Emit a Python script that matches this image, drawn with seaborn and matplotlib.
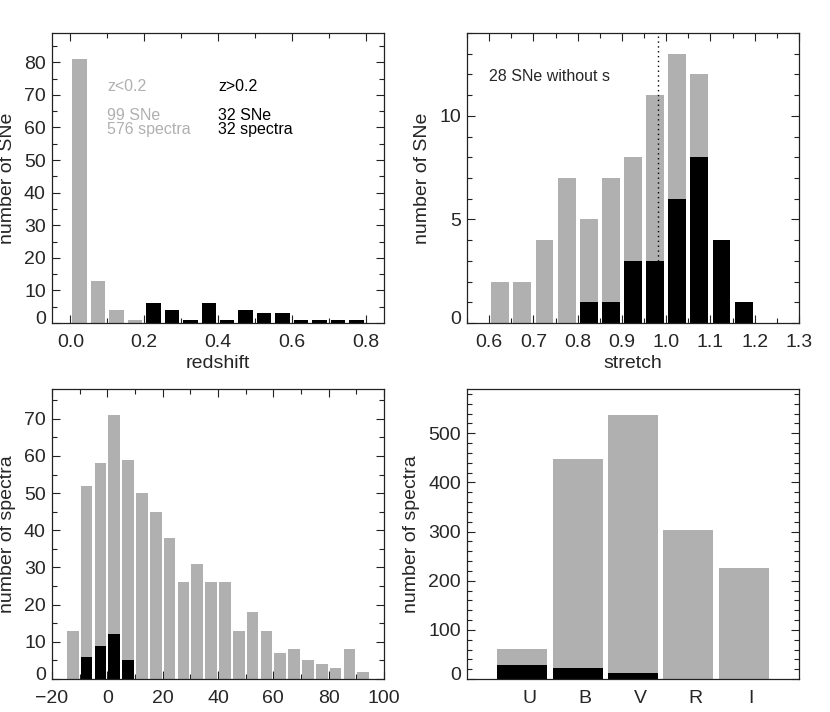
import numpy as np
import pandas as pd
import matplotlib
matplotlib.use("Agg")
import matplotlib.pyplot as plt
from matplotlib.ticker import MultipleLocator, FuncFormatter
from matplotlib.transforms import ScaledTranslation
import seaborn as sns

# redshift histogram (bin starts, width 0.05)
z_lo_bins = [0.0, 0.05, 0.10, 0.15]
z_lo_counts = [81, 13, 4, 1]
z_hi_bins = [0.20, 0.25, 0.30, 0.35, 0.40, 0.45, 0.50, 0.55, 0.60, 0.65, 0.70, 0.75]
z_hi_counts = [6, 4, 1, 6, 1, 4, 3, 3, 1, 1, 1, 1]

# stretch histogram (bin starts, width 0.05)
s_bins = [0.60, 0.65, 0.70, 0.75, 0.80, 0.85, 0.90, 0.95, 1.00, 1.05, 1.10, 1.15]
s_all_counts = [2, 2, 4, 7, 5, 7, 8, 11, 13, 12, 4, 1]
s_hi_counts = [0, 0, 0, 0, 1, 1, 3, 3, 6, 8, 4, 1]
s_mean = 0.982

# phase histogram (bin starts, width 5 days)
ph_bins = [-15, -10, -5, 0, 5, 10, 15, 20, 25, 30, 35, 40, 45, 50, 55, 60, 65, 70, 75, 80, 85, 90]
ph_lo_counts = [13, 52, 58, 71, 59, 50, 45, 38, 26, 31, 26, 26, 13, 18, 13, 7, 8, 5, 4, 3, 8, 2]
ph_hi_counts = [0, 6, 9, 12, 5, 0, 0, 0, 0, 0, 0, 0, 0, 0, 0, 0, 0, 0, 0, 0, 0, 0]

# spectra per rest-frame filter
filters = ["U", "B", "V", "R", "I"]
filt_lo_counts = [61, 448, 537, 303, 226]
filt_hi_counts = [29, 23, 12, 0, 0]

GRAY = "#b0b0b0"
BLACK = "#000000"
FS = 14      # ticks and axis labels
FS_TXT = 11.5  # annotations

sns.set_style("ticks")
plt.rcParams["font.family"] = ["Liberation Sans", "DejaVu Sans"]
plt.rcParams["axes.linewidth"] = 0.9
plt.rcParams["axes.edgecolor"] = "#222222"

fig = plt.figure(figsize=(8.3, 7.12), dpi=100)
W, H = 830.0, 712.0
ax1 = fig.add_axes([52 / W, (H - 323) / H, 332 / W, 290 / H])
ax2 = fig.add_axes([467 / W, (H - 323) / H, 332 / W, 290 / H])
ax3 = fig.add_axes([52 / W, (H - 679) / H, 332 / W, 290 / H])
ax4 = fig.add_axes([467 / W, (H - 679) / H, 332 / W, 290 / H])


def hist(ax, starts, counts, width, color, shrink):
    df = pd.DataFrame({"x": np.array(starts, dtype=float) + width / 2.0,
                       "n": np.array(counts, dtype=float)})
    sns.histplot(data=df, x="x", weights="n", binwidth=width,
                 binrange=(starts[0], starts[-1] + width), shrink=shrink,
                 color=color, alpha=1, linewidth=0, ax=ax)


def style(ax, xmaj, xmin, ymaj, ymin):
    ax.xaxis.set_major_locator(MultipleLocator(xmaj))
    ax.xaxis.set_minor_locator(MultipleLocator(xmin))
    ax.yaxis.set_major_locator(MultipleLocator(ymaj))
    ax.yaxis.set_minor_locator(MultipleLocator(ymin))
    ax.tick_params(which="both", direction="in", top=True, right=True,
                   labelsize=FS, color="#222222")
    ax.tick_params(which="major", length=6, width=0.8)
    ax.tick_params(which="minor", length=3.5, width=0.8)
    ax.tick_params(axis="x", pad=8)
    ax.tick_params(axis="y", pad=4.5)
    for sp in ax.spines.values():
        sp.set_visible(True)


def lift_zero(ax):
    # the "0" y label sits a bit higher than its tick, as in the original
    ax.yaxis.set_major_formatter(FuncFormatter(lambda v, p: "" if v == 0 else "%g" % v))
    ax.annotate("0", xy=(0, 0), xycoords=("axes fraction", "data"),
                xytext=(-4.5, 4.3), textcoords="offset points",
                ha="right", va="center_baseline", fontsize=FS)


# panel 1: redshift
hist(ax1, z_lo_bins, z_lo_counts, 0.05, GRAY, 0.78)
hist(ax1, z_hi_bins, z_hi_counts, 0.05, BLACK, 0.78)
ax1.set_xlim(-0.05, 0.85)
ax1.set_ylim(0, 89)
style(ax1, 0.2, 0.1, 10, 5)
lift_zero(ax1)
ax1.xaxis.set_major_formatter(matplotlib.ticker.FormatStrFormatter("%.1f"))
ax1.set_xlabel("redshift", fontsize=FS, labelpad=3)
ax1.set_ylabel("number of SNe", fontsize=FS, labelpad=6)
ax1.text(0.1, 72.7, "z<0.2", color=GRAY, fontsize=FS_TXT, va="center")
ax1.text(0.1, 63.8, "99 SNe", color=GRAY, fontsize=FS_TXT, va="center")
ax1.text(0.1, 59.4, "576 spectra", color=GRAY, fontsize=FS_TXT, va="center")
ax1.text(0.4, 72.7, "z>0.2", color=BLACK, fontsize=FS_TXT, va="center")
ax1.text(0.4, 63.8, "32 SNe", color=BLACK, fontsize=FS_TXT, va="center")
ax1.text(0.4, 59.4, "32 spectra", color=BLACK, fontsize=FS_TXT, va="center")

# panel 2: stretch
hist(ax2, s_bins, s_all_counts, 0.05, GRAY, 0.81)
hist(ax2, s_bins, s_hi_counts, 0.05, BLACK, 0.81)
ax2.vlines(s_mean, 3, 14, colors="k", linestyles=(0, (1, 2.5)), linewidth=1)
ax2.set_xlim(0.55, 1.3)
ax2.set_ylim(0, 14)
style(ax2, 0.1, 0.05, 5, 1)
lift_zero(ax2)
ax2.xaxis.set_major_formatter(matplotlib.ticker.FormatStrFormatter("%.1f"))
ax2.set_xlabel("stretch", fontsize=FS, labelpad=3)
ax2.set_ylabel("number of SNe", fontsize=FS, labelpad=6)
ax2.text(0.6, 11.9, "28 SNe without s", fontsize=FS_TXT, va="center")

# panel 3: phase
hist(ax3, ph_bins, ph_lo_counts, 5, GRAY, 0.85)
hist(ax3, ph_bins, ph_hi_counts, 5, BLACK, 0.85)
ax3.set_xlim(-20, 100)
ax3.set_ylim(0, 78)
style(ax3, 20, 10, 10, 5)
lift_zero(ax3)
ax3.set_xlabel("rest-frame phase [days]", fontsize=FS, labelpad=5)
ax3.set_ylabel("number of spectra", fontsize=FS, labelpad=6)

# panel 4: filters
sns.barplot(x=filters, y=filt_lo_counts, color=GRAY, saturation=1, width=0.9,
            linewidth=0, ax=ax4)
sns.barplot(x=filters, y=filt_hi_counts, color=BLACK, saturation=1, width=0.9,
            linewidth=0, ax=ax4)
ax4.set_xlim(-1, 5)
ax4.set_ylim(0, 590)
ax4.yaxis.set_major_locator(MultipleLocator(100))
ax4.yaxis.set_minor_locator(MultipleLocator(20))
ax4.tick_params(which="both", direction="in", right=True, labelsize=FS, color="#222222")
ax4.tick_params(which="major", length=6, width=0.8)
ax4.tick_params(which="minor", length=3.5, width=0.8)
ax4.tick_params(axis="x", length=0, pad=8)
ax4.tick_params(axis="y", pad=4.5)
for sp in ax4.spines.values():
    sp.set_visible(True)
lift_zero(ax4)
for lab in ax4.get_xticklabels():
    lab.set_transform(lab.get_transform() + ScaledTranslation(0.07, 0, fig.dpi_scale_trans))
ax4.set_xlabel("rest-frame filter", fontsize=FS, labelpad=5)
ax4.set_ylabel("number of spectra", fontsize=FS, labelpad=6)

fig.savefig("out.png", dpi=100)
